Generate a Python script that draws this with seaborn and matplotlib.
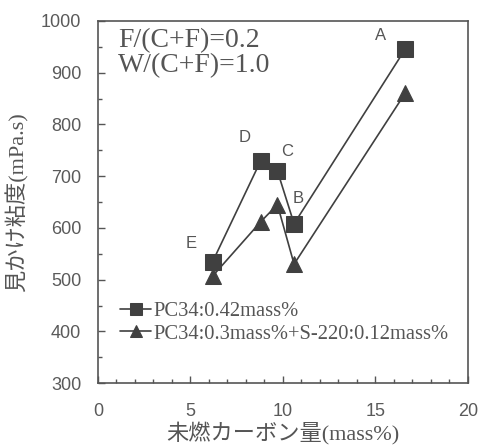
import matplotlib
matplotlib.use("Agg")
import matplotlib.pyplot as plt
import seaborn as sns
import pandas as pd
from matplotlib.ticker import MultipleLocator

# Unburnt carbon content vs apparent viscosity, two admixture recipes
point_labels = ["E", "D", "C", "B", "A"]
carbon = [6.2, 8.8, 9.7, 10.6, 16.6]
visc_pc34 = [535, 730, 710, 608, 945]
visc_mix = [507, 612, 645, 530, 860]
series_names = ["PC34:0.42mass%", "PC34:0.3mass%+S-220:0.12mass%"]

sns.set_theme(style="ticks")
plt.rcParams["font.family"] = ["Liberation Sans", "Noto Sans CJK JP"]

ink = "#404040"
grey = "#555555"
serif_jp = ["Liberation Serif", "Noto Sans CJK JP"]

df = pd.DataFrame({
    "carbon": carbon * 2,
    "visc": visc_pc34 + visc_mix,
    "series": [series_names[0]] * len(carbon) + [series_names[1]] * len(carbon),
})

fig = plt.figure(figsize=(4.78, 4.45), dpi=100)
ax = fig.add_axes([0.205, 0.139, 0.774, 0.814])

sns.lineplot(
    data=df, x="carbon", y="visc", hue="series", style="series",
    markers={series_names[0]: "s", series_names[1]: "^"}, dashes=False,
    palette={series_names[0]: ink, series_names[1]: ink},
    markersize=11, markeredgecolor=ink, linewidth=1.2, sort=True,
    estimator=None, ax=ax,
)

ax.set_xlim(0, 20)
ax.set_ylim(300, 1000)
ax.xaxis.set_major_locator(MultipleLocator(5))
ax.xaxis.set_minor_locator(MultipleLocator(1))
ax.yaxis.set_major_locator(MultipleLocator(100))
ax.yaxis.set_minor_locator(MultipleLocator(50))
ax.tick_params(axis="both", which="major", direction="in", length=5, width=1,
               color=grey, labelsize=13, labelcolor="#5a5a5a")
ax.tick_params(axis="both", which="minor", direction="in", length=3, width=1,
               color=grey)
ax.tick_params(axis="y", which="major", pad=12)
ax.tick_params(axis="x", which="major", pad=14)
for s in ax.spines.values():
    s.set_visible(True)
    s.set_color(grey)
    s.set_linewidth(1.2)

ax.set_xlabel("未燃カーボン量(mass%)", family=serif_jp, fontsize=16,
              color=grey, labelpad=2)
ax.set_ylabel("見かけ粘度(mPa.s)", family=serif_jp, fontsize=16,
              color=grey, labelpad=9)

# Point letters next to the square markers
offsets = {"A": (-25, 14), "D": (-16, 23), "C": (10, 19), "B": (4, 25), "E": (-21, 18)}
for lab, x, y in zip(point_labels, carbon, visc_pc34):
    dx, dy = offsets[lab]
    ax.annotate(lab, (x, y), xytext=(dx, dy), textcoords="offset pixels",
                ha="center", va="center", fontsize=12, color=grey)

ax.text(0.054, 0.928, "F/(C+F)=0.2", transform=ax.transAxes,
        family="Liberation Serif", fontsize=20, color=grey, va="baseline")
ax.text(0.054, 0.859, "W/(C+F)=1.0", transform=ax.transAxes,
        family="Liberation Serif", fontsize=20, color=grey, va="baseline")

leg = ax.legend(loc="upper left", bbox_to_anchor=(0.06, 0.225), frameon=False,
                prop={"family": "Liberation Serif", "size": 14.8},
                handlelength=1.5, handletextpad=0.1, labelspacing=0.15,
                markerscale=0.75, borderaxespad=0, borderpad=0)
for t in leg.get_texts():
    t.set_color(grey)

fig.savefig("out.png", dpi=100, facecolor="white")
